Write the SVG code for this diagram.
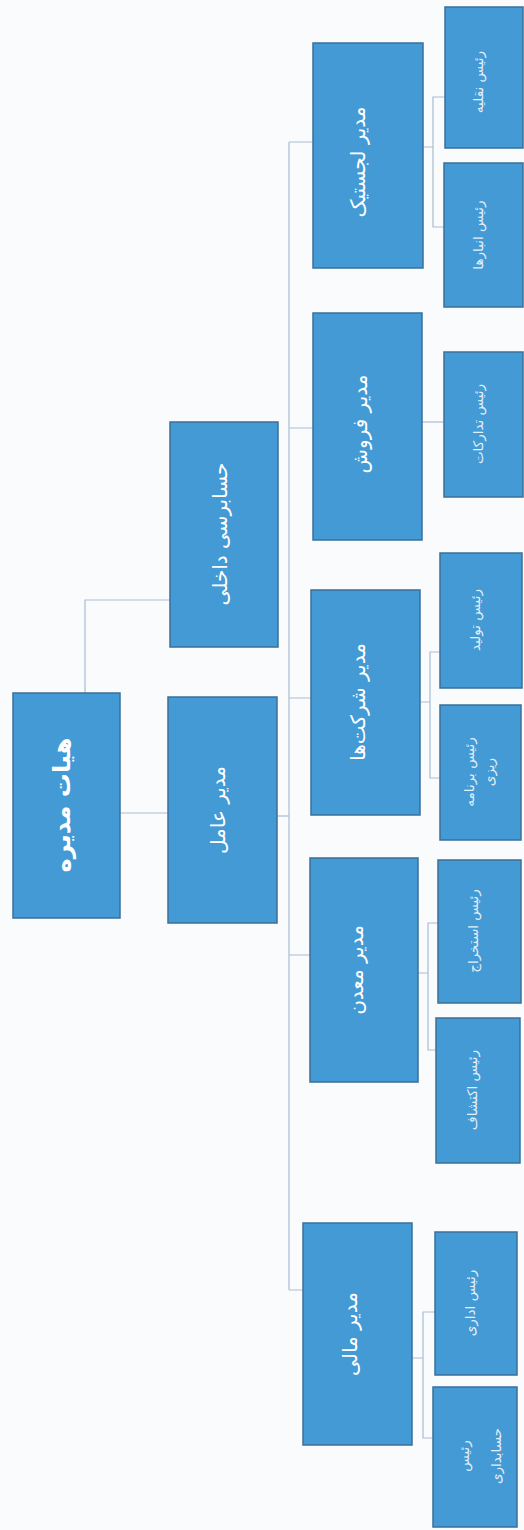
<svg xmlns="http://www.w3.org/2000/svg" width="524" height="1530" viewBox="0 0 524 1530">
<style>
.box{fill:#449ad5;stroke:#3a7099;stroke-width:1.5}
.ln{fill:none;stroke:#a7bdd4;stroke-width:1.2}
text{fill:#ffffff;font-family:"DejaVu Sans","Noto Sans",sans-serif;text-anchor:middle;dominant-baseline:central}
.t1{font-size:24px;font-weight:bold}
.t2{font-size:20px}
.t3{font-size:13.5px;fill-opacity:0.85}
</style>
<rect x="0" y="0" width="524" height="1530" fill="#fafbfd"/>
<g id="connectors">
<path class="ln" d="M85 693V600H170"/>
<path class="ln" d="M120 813H168"/>
<path class="ln" d="M277 816H289"/>
<path class="ln" d="M289 142V1290"/>
<path class="ln" d="M289 142H313M289 428H313M289 698H311M289 955H310M289 1290H303"/>
<path class="ln" d="M423 147H433M445 97H433V227H444"/>
<path class="ln" d="M422 422H444"/>
<path class="ln" d="M420 702H430M440 652H430V778H440"/>
<path class="ln" d="M418 973H428M438 923H428V1050H436"/>
<path class="ln" d="M412 1358H423M435 1312H423V1438H433"/>
</g>
<g id="board"><rect class="box" x="13" y="693" width="107" height="225"/><text class="t1" x="62" y="805" transform="rotate(-90 62 805)">هیات مدیره</text></g>
<g id="audit"><rect class="box" x="170" y="422" width="108" height="225"/><text class="t2" x="220" y="534" transform="rotate(-90 220 534)">حسابرسی داخلی</text></g>
<g id="ceo"><rect class="box" x="168" y="697" width="109" height="226"/><text class="t2" x="218" y="810" transform="rotate(-90 218 810)">مدیر عامل</text></g>
<g id="logistics"><rect class="box" x="313" y="43" width="110" height="225"/><text class="t2" x="358" y="162" transform="rotate(-90 358 162)">مدیر لجستیک</text></g>
<g id="sales"><rect class="box" x="313" y="313" width="109" height="227"/><text class="t2" x="360" y="424" transform="rotate(-90 360 424)">مدیر فروش</text></g>
<g id="companies"><rect class="box" x="311" y="590" width="109" height="225"/><text class="t2" x="358" y="702" transform="rotate(-90 358 702)">مدیر شرکت‌ها</text></g>
<g id="mine"><rect class="box" x="310" y="858" width="108" height="224"/><text class="t2" x="356" y="970" transform="rotate(-90 356 970)">مدیر معدن</text></g>
<g id="finance"><rect class="box" x="303" y="1223" width="109" height="222"/><text class="t2" x="350" y="1334" transform="rotate(-90 350 1334)">مدیر مالی</text></g>
<g id="transport"><rect class="box" x="445" y="7" width="78" height="141"/><text class="t3" x="478" y="82" transform="rotate(-90 478 82)">رئیس نقلیه</text></g>
<g id="warehouses"><rect class="box" x="444" y="163" width="79" height="144"/><text class="t3" x="478" y="235" transform="rotate(-90 478 235)">رئیس انبارها</text></g>
<g id="procurement"><rect class="box" x="444" y="352" width="79" height="145"/><text class="t3" x="478" y="424" transform="rotate(-90 478 424)">رئیس تدارکات</text></g>
<g id="production"><rect class="box" x="440" y="553" width="82" height="135"/><text class="t3" x="475" y="620" transform="rotate(-90 475 620)">رئیس تولید</text></g>
<g id="planning"><rect class="box" x="440" y="705" width="81" height="135"/><text class="t3" x="469" y="772" transform="rotate(-90 469 772)">رئیس برنامه</text><text class="t3" x="489" y="772" transform="rotate(-90 489 772)">ریزی</text></g>
<g id="extraction"><rect class="box" x="438" y="860" width="83" height="143"/><text class="t3" x="473" y="931" transform="rotate(-90 473 931)">رئیس استخراج</text></g>
<g id="exploration"><rect class="box" x="436" y="1018" width="84" height="145"/><text class="t3" x="472" y="1090" transform="rotate(-90 472 1090)">رئیس اکتشاف</text></g>
<g id="admin"><rect class="box" x="435" y="1232" width="82" height="143"/><text class="t3" x="470" y="1303" transform="rotate(-90 470 1303)">رئیس اداری</text></g>
<g id="accounting"><rect class="box" x="433" y="1387" width="84" height="140"/><text class="t3" x="464" y="1456" transform="rotate(-90 464 1456)">رئیس</text><text class="t3" x="496" y="1456" transform="rotate(-90 496 1456)">حسابداری</text></g>
</svg>
